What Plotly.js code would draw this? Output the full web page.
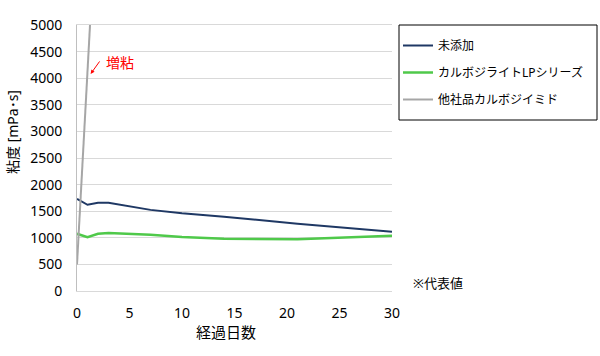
<!DOCTYPE html>
<html>
<head>
<meta charset="utf-8">
<script src="https://cdn.plot.ly/plotly-3.0.1.min.js"></script>
<style>html,body{margin:0;padding:0;background:#fff;}#chart{width:600px;height:356px;}</style>
</head>
<body>
<div id="chart"></div>
<script>
const seriesNames = ['未添加', 'カルボジライトLPシリーズ', '他社品カルボジイミド'];
const daysA = [0, 1, 2, 3, 7, 10, 14, 21, 30];
const noAdd = [1730, 1620, 1660, 1660, 1525, 1460, 1395, 1265, 1115];
const daysB = [0, 1, 2, 3, 7, 10, 14, 21, 30];
const lpSeries = [1075, 1010, 1075, 1090, 1055, 1015, 980, 972, 1040];
const daysC = [0, 1, 2];
const competitor = [500, 4130, 7760];
const xTicks = [0, 5, 10, 15, 20, 25, 30];
const yTicks = [0, 500, 1000, 1500, 2000, 2500, 3000, 3500, 4000, 4500, 5000];

const jp = '"Noto Sans", "Noto Sans CJK JP", sans-serif';
const L = 77, R = 392, T = 25, B = 291;
const px = v => (v - L) / (R - L);
const py = v => (B - v) / (B - T);

const traces = [
  {x: daysA, y: noAdd, name: seriesNames[0], type: 'scatter', mode: 'lines',
   line: {color: '#1f3864', width: 2}, legendgroup: 'a'},
  {x: daysB, y: lpSeries, name: seriesNames[1], type: 'scatter', mode: 'lines',
   line: {color: '#4fc94a', width: 2.5}, legendgroup: 'b'},
  {x: daysC, y: competitor, name: seriesNames[2], type: 'scatter', mode: 'lines',
   line: {color: '#a6a6a6', width: 2}, legendgroup: 'c'}
];
const layout = {
  width: 600, height: 356,
  margin: {l: L, r: 600 - R, t: T, b: 356 - B},
  paper_bgcolor: '#fff', plot_bgcolor: '#fff',
  font: {family: jp, size: 14, color: '#000'},
  showlegend: true,
  legend: {x: px(398), y: py(31), xanchor: 'left', yanchor: 'top',
    borderwidth: 0, bgcolor: 'rgba(0,0,0,0)', font: {family: jp, size: 12, color: '#000'},
    tracegroupgap: 8, itemwidth: 30},
  xaxis: {range: [0, 30], tickvals: xTicks, ticktext: xTicks.map(String),
    showgrid: false, zeroline: false, showline: true, linecolor: '#d9d9d9', linewidth: 1, mirror: true,
    ticks: '', tickfont: {size: 14}, fixedrange: true, ticklabelstandoff: 9},
  yaxis: {range: [0, 5000], tickvals: yTicks, ticktext: yTicks.map(String),
    showgrid: true, gridcolor: '#d9d9d9', zeroline: false, showline: true, linecolor: '#bfbfbf', linewidth: 1,
    ticks: '', tickfont: {size: 14}, fixedrange: true, ticklabelstandoff: 11},
  shapes: [
    {type: 'rect', xref: 'paper', yref: 'paper', x0: px(399), x1: px(597), y0: py(120), y1: py(25),
     line: {color: '#000', width: 1}, fillcolor: 'rgba(0,0,0,0)', layer: 'above'}
  ],
  annotations: [
    {x: 1.3, y: 4080, xref: 'x', yref: 'y', ax: 10, ay: -14, axref: 'pixel', ayref: 'pixel',
     text: '', showarrow: true, arrowhead: 2, arrowsize: 0.8, arrowwidth: 1, arrowcolor: '#ff0000'},
    {x: 2.6, y: 4290, xref: 'x', yref: 'y', xanchor: 'left', yanchor: 'middle', text: '増粘', showarrow: false,
     font: {family: jp, size: 14, color: '#ff0000'}},
    {x: px(437.5), y: py(283), xref: 'paper', yref: 'paper', xanchor: 'center', yanchor: 'middle',
     text: '※代表値', showarrow: false, font: {family: jp, size: 13, color: '#000'}},
    {x: px(226), y: py(332), xref: 'paper', yref: 'paper', xanchor: 'center', yanchor: 'middle',
     text: '経過日数', showarrow: false, font: {family: jp, size: 15, color: '#000'}},
    {x: px(12), y: py(132), xref: 'paper', yref: 'paper', xanchor: 'center', yanchor: 'middle', textangle: -90,
     text: '粘度 [mPa･s]', showarrow: false, font: {family: jp, size: 14, color: '#000'}}
  ]
};
Plotly.newPlot('chart', traces, layout, {displayModeBar: false, staticPlot: true});
</script>
</body>
</html>
